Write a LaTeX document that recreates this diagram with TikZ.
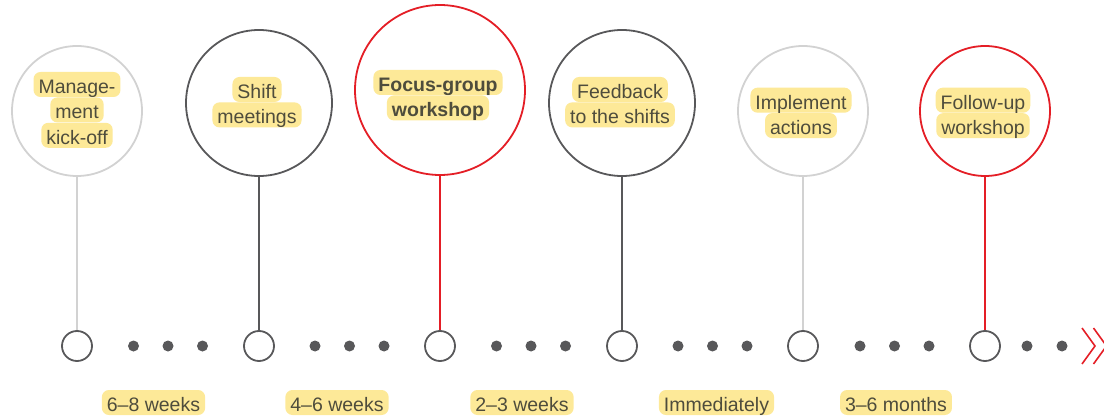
\documentclass[tikz,border=0pt]{standalone}
\usepackage{fontspec}
\setmainfont{Liberation Sans}
\usetikzlibrary{positioning}
\definecolor{lgrey}{RGB}{210,210,210}
\definecolor{dgrey}{RGB}{88,88,90}
\definecolor{mred}{RGB}{228,30,38}
\definecolor{hlyellow}{RGB}{253,233,152}
\definecolor{txtgrey}{RGB}{78,76,60}
\tikzset{
  stage/.style = {circle, draw, line width=1.8pt, fill=white, inner sep=0pt},% big circle
  slot/.style = {circle, draw=dgrey, line width=1.8pt, fill=white,
    minimum size=30pt, inner sep=0pt},% small circle on the time line
  hl/.style = {fill=hlyellow, rounded corners=7pt, text=txtgrey, inner xsep=5pt,
    inner ysep=1pt, text height=20.5pt, text depth=2.5pt,
    font=\fontsize{19.5}{25}\selectfont},% yellow marked text
  stem/.style = {line width=1.8pt}
}

\begin{document}
\begin{tikzpicture}[x=1pt,y=-1pt]
\clip (0,0) rectangle (1104,417);
% stages
\node [stage, draw=lgrey, minimum size=130pt] (mgmt) at (77,111) {};
\node [stage, draw=dgrey, minimum size=146pt] (shift) at (259,103) {};
\node [stage, draw=mred, minimum size=170pt] (focus) at (440,90) {};
\node [stage, draw=dgrey, minimum size=146pt] (feedb) at (622,103) {};
\node [stage, draw=lgrey, minimum size=130pt] (impl) at (803,111) {};
\node [stage, draw=mred, minimum size=130pt] (follow) at (985,111) {};
% texts in the stages
\node [hl] (mgmt-1) at (77,84.5) {Manage-};
\node [hl, below=0pt of mgmt-1] (mgmt-2) {ment};
\node [hl, below=0pt of mgmt-2] (mgmt-3) {kick-off};
\node [hl] (shift-1) at (257,89.5) {Shift};
\node [hl, below=0pt of shift-1] (shift-2) {meetings};
\node [hl, font=\fontsize{19.5}{25}\selectfont\bfseries] (focus-1) at (438,82.5) {Focus-group};
\node [hl, font=\fontsize{19.5}{25}\selectfont\bfseries, below=0pt of focus-1] (focus-2) {workshop};
\node [hl] (feedb-1) at (620,89.5) {Feedback};
\node [hl, below=0pt of feedb-1] (feedb-2) {to the shifts};
\node [hl] (impl-1) at (801,100.2) {Implement};
\node [hl, below=0pt of impl-1] (impl-2) {actions};
\node [hl] (follow-1) at (983,100.2) {Follow-up};
\node [hl, below=0pt of follow-1] (follow-2) {workshop};
% time line
\node [slot] (t1) at (77,346) {};
\node [slot] (t2) at (259,346) {};
\node [slot] (t3) at (440,346) {};
\node [slot] (t4) at (622,346) {};
\node [slot] (t5) at (803,346) {};
\node [slot] (t6) at (985,346) {};
\draw [stem, lgrey] (mgmt) -- (t1);
\draw [stem, dgrey] (shift) -- (t2);
\draw [stem, mred] (focus) -- (t3);
\draw [stem, dgrey] (feedb) -- (t4);
\draw [stem, lgrey] (impl) -- (t5);
\draw [stem, mred] (follow) -- (t6);
\fill [dgrey] (133.5,346) circle (5.5pt) (168,346) circle (5.5pt) (202.5,346) circle (5.5pt)
  (315,346) circle (5.5pt) (349.5,346) circle (5.5pt) (384,346) circle (5.5pt)
  (496.5,346) circle (5.5pt) (531,346) circle (5.5pt) (565.5,346) circle (5.5pt)
  (678,346) circle (5.5pt) (712.5,346) circle (5.5pt) (747,346) circle (5.5pt)
  (860,346) circle (5.5pt) (894.5,346) circle (5.5pt) (929,346) circle (5.5pt)
  (1027,346) circle (5.5pt) (1062,346) circle (5.5pt);
\draw [mred, line width=1.6pt] (1082,328) -- (1095,346) -- (1082,364)
  (1093.5,328) -- (1106.5,346) -- (1093.5,364);
% durations
\node [hl] (gap1) at (153.5,402.5) {6--8 weeks};
\node [hl] (gap2) at (337,402.5) {4--6 weeks};
\node [hl] (gap3) at (522,402.5) {2--3 weeks};
\node [hl] (gap4) at (716.5,402.5) {Immediately};
\node [hl] (gap5) at (896,402.5) {3--6 months};
\end{tikzpicture}
\end{document}
